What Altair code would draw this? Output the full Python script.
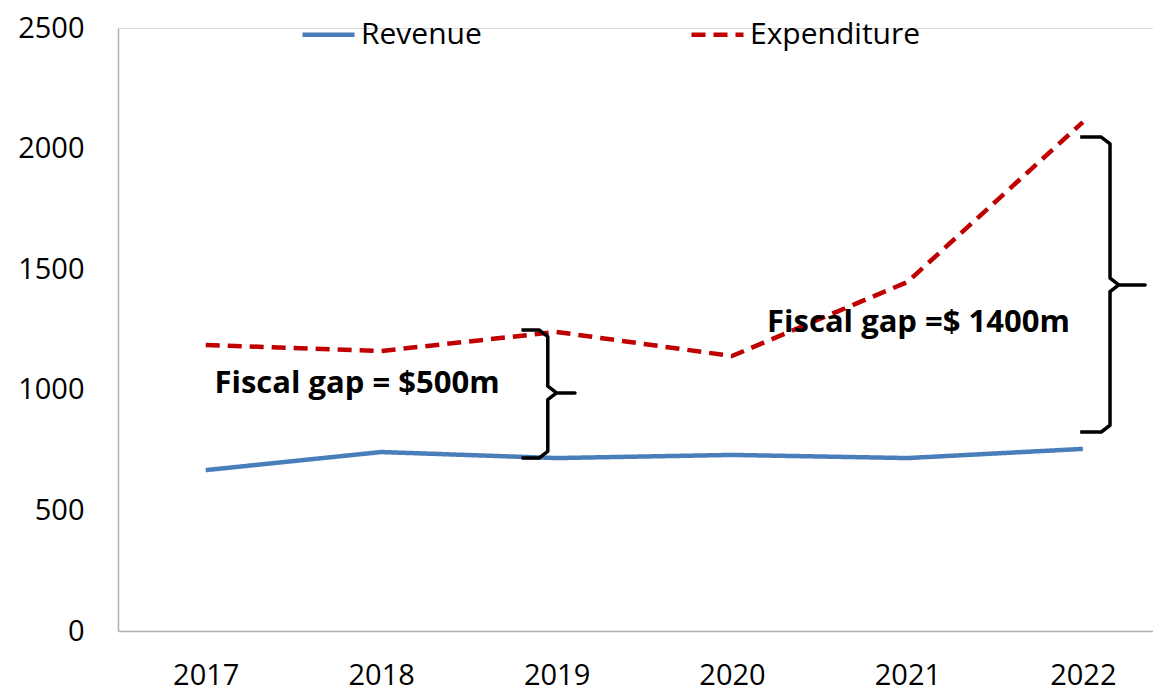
import altair as alt
import pandas as pd

years = [2017, 2018, 2019, 2020, 2021, 2022]
revenue = [667, 742, 717, 730, 717, 755]
expenditure = [1186, 1161, 1240, 1140, 1447, 2110]
y_ticks = [0, 500, 1000, 1500, 2000, 2500]

# annotations
gap_labels = ["Fiscal gap = $500m", "Fiscal gap =$ 1400m"]
gap_label_x = [2017.05, 2020.2]
gap_label_y = [1024, 1277]

# braces: arm-left x, spine x, tip x, top y, bottom y, middle y
brace_arm = [2018.80, 2021.985]
brace_spine = [2018.95, 2022.155]
brace_tip = [2019.105, 2022.355]
brace_top = [1248, 2048]
brace_bottom = [717, 825]
brace_mid = [987, 1435]

rows = []
for y, r, e in zip(years, revenue, expenditure):
    rows.append({"year": y, "value": r, "series": "Revenue"})
    rows.append({"year": y, "value": e, "series": "Expenditure"})
df = pd.DataFrame(rows)

brows = []
for i in range(len(brace_arm)):
    xa, xs, xt = brace_arm[i], brace_spine[i], brace_tip[i]
    yt, yb, ym = brace_top[i], brace_bottom[i], brace_mid[i]
    dx = 0.05
    r = 28
    pts = [(xa, yt), (xs - dx, yt), (xs, yt - r), (xs, ym + r), (xs + dx, ym),
           (xt, ym), (xs + dx, ym), (xs, ym - r), (xs, yb + r), (xs - dx, yb), (xa, yb)]
    for k, (px, py) in enumerate(pts):
        brows.append({"brace": i, "ord": k, "x": px, "y": py})
bdf = pd.DataFrame(brows)

tdf = pd.DataFrame({"x": gap_label_x, "y": gap_label_y, "text": gap_labels})

FONT = "Open Sans"

xscale = alt.Scale(domain=[2016.5, 2022.4], nice=False, zero=False)
yscale = alt.Scale(domain=[0, 2500], nice=False)

legend = alt.Legend(title=None, orient="none", legendX=182, legendY=-22,
                    direction="horizontal", symbolType="stroke",
                    symbolSize=2704, symbolStrokeWidth=4.5,
                    labelFontSize=30, labelFont=FONT, labelColor="#000000",
                    labelLimit=400, labelOffset=4, columnPadding=200, padding=0)

lines = alt.Chart(df).mark_line(strokeWidth=4.5).encode(
    x=alt.X("year:Q", scale=xscale,
            axis=alt.Axis(values=years, format="d", title=None, grid=False, ticks=False,
                          labelFontSize=29, labelFont=FONT, labelColor="#000000",
                          labelPadding=30, domainColor="#b0b0b0", domainWidth=1.5)),
    y=alt.Y("value:Q", scale=yscale,
            axis=alt.Axis(values=y_ticks, format="d", title=None, grid=False, ticks=False,
                          labelFontSize=29, labelFont=FONT, labelColor="#000000",
                          labelPadding=34, domainColor="#b0b0b0", domainWidth=1.5)),
    color=alt.Color("series:N",
                    scale=alt.Scale(domain=["Revenue", "Expenditure"], range=["#4a7ebb", "#c00000"]),
                    legend=legend),
    strokeDash=alt.StrokeDash("series:N",
                              scale=alt.Scale(domain=["Revenue", "Expenditure"], range=[[1, 0], [14, 8]]),
                              legend=legend),
)

braces = alt.Chart(bdf).mark_line(color="#000000", strokeWidth=3.5, strokeJoin="round").encode(
    x=alt.X("x:Q", scale=xscale),
    y=alt.Y("y:Q", scale=yscale),
    detail="brace:N",
    order="ord:Q",
)

texts = alt.Chart(tdf).mark_text(align="left", baseline="middle", fontSize=31,
                                 fontWeight="bold", font=FONT, color="#000000").encode(
    x=alt.X("x:Q", scale=xscale),
    y=alt.Y("y:Q", scale=yscale),
    text="text:N",
)

chart = alt.layer(lines, braces, texts).properties(
    width=1035, height=603,
    autosize=alt.AutoSizeParams(type="none"),
    padding={"left": 110, "top": 20, "right": 0, "bottom": 61},
).configure_view(stroke=None).configure(background="#ffffff")

chart.save("out.html", embed_options={"renderer": "svg", "actions": False})
